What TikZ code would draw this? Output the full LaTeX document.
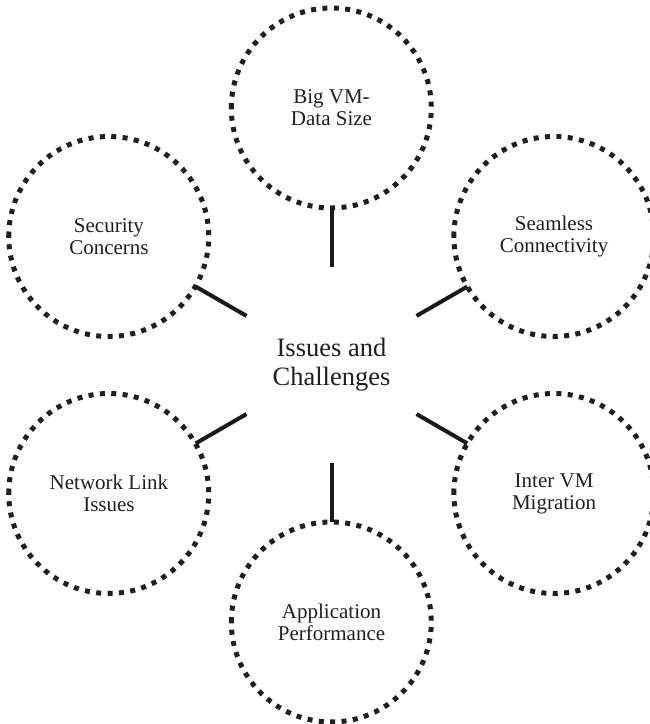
\documentclass[tikz,border=0pt]{standalone}
\usepackage{fontspec}
\setmainfont{Liberation Serif}
\usetikzlibrary{calc}
\tikzset{
  issue/.style={circle, minimum size=200pt, inner sep=0pt, align=center,
    font=\fontsize{21}{22}\selectfont, text=black!88},
  ring/.style={draw=black!88, line width=5pt, dash pattern=on 5pt off 6.4pt},
  hub/.style={circle, minimum size=196pt, inner sep=0pt, align=center,
    font=\fontsize{26.5}{29}\selectfont, text=black!88},
  spoke/.style={draw=black!90, line width=4pt}
}
\begin{document}
\begin{tikzpicture}[x=1pt,y=1pt]
\useasboundingbox (0,0) rectangle (649,724);
\coordinate (c) at (331.5,359);
\node[hub] (hub) at (c) {Issues and\\Challenges};
\node[issue] (big) at ([shift={(90:257)}]c) {Big VM-\\Data Size};
\node[issue] (sec) at ([shift={(150:257)}]c) {Security\\Concerns};
\node[issue] (seam) at ([shift={(30:257)}]c) {Seamless\\Connectivity};
\node[issue] (net) at ([shift={(210:257)}]c) {Network Link\\Issues};
\node[issue] (inter) at ([shift={(-30:257)}]c) {Inter VM\\Migration};
\node[issue] (app) at ([shift={(-90:257)}]c) {Application\\Performance};
\foreach \n in {big,sec,seam,net,inter,app}{
  \draw[ring] (\n.west) arc (180:-180:100pt);
  \draw[spoke] (\n) -- (hub);
}
\end{tikzpicture}
\end{document}
